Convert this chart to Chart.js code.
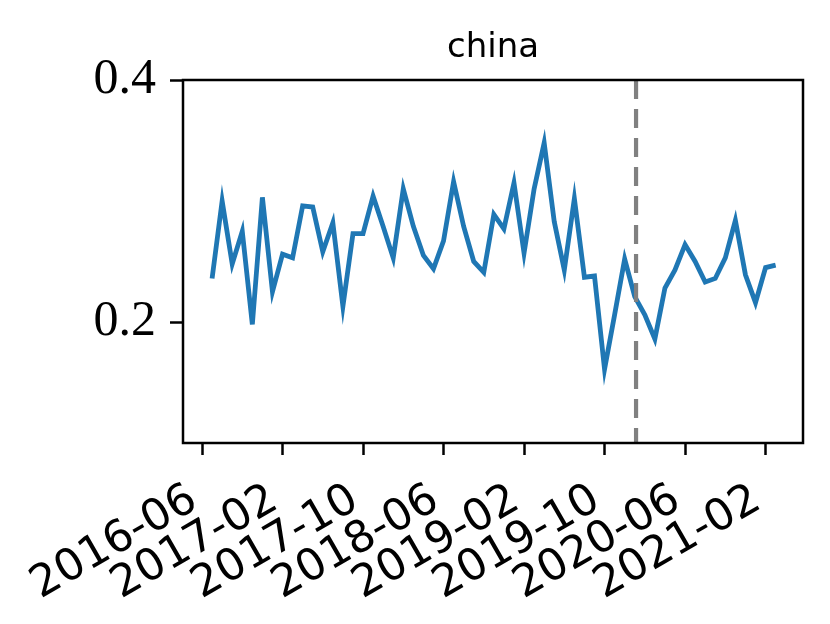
<!DOCTYPE html>
<html>
<head>
<meta charset="utf-8">
<script src="https://cdn.jsdelivr.net/npm/chart.js@4/dist/chart.umd.min.js"></script>
<style>
  html, body { margin: 0; padding: 0; background: #fff; }
  #wrap { width: 830px; height: 624px; }
</style>
</head>
<body>
<div id="wrap"><canvas id="chart" width="830" height="624"></canvas></div>
<script>
// months counted from 2016-06 (= 0)
const tickMonths = [0, 8, 16, 24, 32, 40, 48, 56];
const tickLabels = ['2016-06', '2017-02', '2017-10', '2018-06', '2019-02', '2019-10', '2020-06', '2021-02'];
const firstMonth = 1; // first value is 2016-07
const chinaValues = [
  0.236, 0.300, 0.248, 0.275, 0.198, 0.303, 0.225, 0.256, 0.253, 0.296,
  0.295, 0.258, 0.282, 0.213, 0.273, 0.273, 0.304, 0.279, 0.253, 0.310,
  0.279, 0.255, 0.244, 0.267, 0.316, 0.279, 0.250, 0.241, 0.289, 0.277,
  0.315, 0.257, 0.310, 0.348, 0.283, 0.243, 0.302, 0.237, 0.238, 0.161,
  0.206, 0.252, 0.221, 0.206, 0.186, 0.228, 0.243, 0.264, 0.250, 0.233,
  0.236, 0.253, 0.284, 0.239, 0.216, 0.245, 0.247
];
const eventMonth = 43.13; // dashed marker, early 2020-01
const yTicks = [0.2, 0.4];
const titleText = 'china';

const points = chinaValues.map((v, i) => ({ x: firstMonth + i, y: v }));

const framePlugin = {
  id: 'frame',
  afterDatasetsDraw(chart) {
    const { ctx, chartArea: a, scales } = chart;
    const xe = scales.x.getPixelForValue(eventMonth);
    ctx.save();
    ctx.strokeStyle = '#808080';
    ctx.lineWidth = 4.2;
    ctx.setLineDash([19, 10]);
    ctx.beginPath();
    ctx.moveTo(xe, a.top);
    ctx.lineTo(xe, a.bottom);
    ctx.stroke();
    ctx.restore();
  },
  afterDraw(chart) {
    const { ctx, chartArea: a } = chart;
    ctx.save();
    ctx.strokeStyle = '#000';
    ctx.lineWidth = 2.5;
    ctx.strokeRect(a.left, a.top, a.right - a.left, a.bottom - a.top);
    ctx.fillStyle = '#000';
    ctx.font = '34px "DejaVu Sans"';
    ctx.textAlign = 'center';
    ctx.textBaseline = 'alphabetic';
    ctx.fillText(titleText, (a.left + a.right) / 2, 57);
    ctx.restore();
  }
};

new Chart(document.getElementById('chart'), {
  type: 'line',
  data: {
    datasets: [{
      data: points,
      borderColor: '#1f77b4',
      borderWidth: 4.8,
      pointRadius: 0,
      tension: 0,
      fill: false
    }]
  },
  options: {
    responsive: false,
    animation: false,
    layout: { padding: { top: 80, right: 27, left: 0, bottom: 0 } },
    plugins: { legend: { display: false }, tooltip: { enabled: false }, title: { display: false } },
    scales: {
      x: {
        type: 'linear',
        min: -1.89,
        max: 59.72,
        afterBuildTicks: axis => { axis.ticks = tickMonths.map(v => ({ value: v })); },
        afterFit: scale => { scale.height = 181; },
        grid: { drawOnChartArea: false, drawTicks: true, tickLength: 12, tickWidth: 2.5, tickColor: '#000' },
        border: { display: false },
        ticks: {
          autoSkip: false,
          minRotation: 30,
          maxRotation: 30,
          padding: 19,
          labelOffset: -8,
          color: '#000',
          font: { family: 'DejaVu Sans', size: 44 },
          callback: v => tickLabels[tickMonths.indexOf(v)]
        }
      },
      y: {
        min: 0.1,
        max: 0.4,
        afterBuildTicks: axis => { axis.ticks = yTicks.map(v => ({ value: v })); },
        afterFit: scale => { scale.width = 183; },
        grid: { drawOnChartArea: false, drawTicks: true, tickLength: 13, tickWidth: 2.5, tickColor: '#000' },
        border: { display: false },
        ticks: {
          padding: 14,
          color: '#000',
          font: { family: 'Liberation Serif', size: 50 },
          callback: v => v.toFixed(1)
        }
      }
    }
  },
  plugins: [framePlugin]
});
</script>
</body>
</html>
